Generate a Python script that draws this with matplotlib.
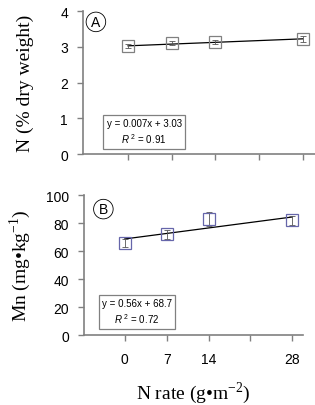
import matplotlib.pyplot as plt
import numpy as np

# N rate (g m-2)
rate = [0, 7, 14, 28]
# panel A: N concentration (% dry weight)
n_conc = [3.02, 3.11, 3.13, 3.22]
n_err = [0.05, 0.06, 0.05, 0.08]
# panel B: Mn concentration (mg kg-1)
mn_conc = [66, 72, 83, 82]
mn_err = [3, 3, 5, 3]

fit_a = (0.007, 3.03)
fit_b = (0.56, 68.7)
eq_a = ["y = 0.007x + 3.03", "$\\it{R}^{\\ \\mathsf{2}}$ = 0.91"]
eq_b = ["y = 0.56x + 68.7", "$\\it{R}^{\\ \\mathsf{2}}$ = 0.72"]

sans = ['Liberation Sans', 'DejaVu Sans']
serif = ['Liberation Serif', 'DejaVu Serif']
plt.rcParams['font.family'] = sans
plt.rcParams['mathtext.fontset'] = 'custom'
plt.rcParams['mathtext.rm'] = 'Liberation Serif'
plt.rcParams['mathtext.it'] = 'Liberation Sans:italic'
plt.rcParams['mathtext.sf'] = 'Liberation Sans'

fig = plt.figure(figsize=(3.15, 4.06), dpi=100)
ax1 = fig.add_axes([0.264, 0.618, 0.736, 0.352])
ax2 = fig.add_axes([0.267, 0.172, 0.695, 0.345])

grey = '#808080'


def style(ax):
    for s in ['top', 'right']:
        ax.spines[s].set_visible(False)
    for s in ['left', 'bottom']:
        ax.spines[s].set_color(grey)
        ax.spines[s].set_linewidth(1.2)
    ax.tick_params(labelcolor='black', labelsize=10, length=4, width=1,
                   direction='out', color=grey)
    ax.tick_params(axis='y', pad=7)


def panel(ax, y, err, fit, eq, color, letter, lpos, boxpos):
    xx = np.array([rate[0], rate[-1]])
    ax.plot(xx, fit[0] * xx + fit[1], color='black', lw=0.9, zorder=2)
    ax.errorbar(rate, y, yerr=err, fmt='none', ecolor='#555555', elinewidth=0.6,
                capsize=2, capthick=0.6, zorder=3)
    ax.plot(rate, y, 's', ms=8.5, mfc='none', mec=color, mew=0.9, zorder=4)
    ax.text(lpos[0], lpos[1], letter, transform=ax.transAxes, fontsize=10,
            ha='center', va='center',
            bbox=dict(boxstyle='circle,pad=0.2', fc='white', ec='black', lw=0.6))
    ax.text(boxpos[0], boxpos[1], eq[0] + "\n" + eq[1], transform=ax.transAxes,
            fontsize=7, ha='center', va='center', linespacing=1.3,
            multialignment='center',
            bbox=dict(boxstyle='square,pad=0.35', fc='white', ec=grey, lw=0.9))


style(ax1)
panel(ax1, n_conc, n_err, fit_a, eq_a, grey, 'A', (0.055, 0.925), (0.263, 0.157))
ax1.set_xlim(-7.2, 30)
ax1.set_ylim(0, 4)
ax1.set_yticks([0, 1, 2, 3, 4])
ax1.set_xticks([0, 7, 14, 21, 28])
ax1.set_xticklabels([])
ax1.set_ylabel("N (% dry weight)", family=serif, fontsize=14, labelpad=19)

style(ax2)
panel(ax2, mn_conc, mn_err, fit_b, eq_b, '#6666aa', 'B', (0.088, 0.9), (0.242, 0.168))
ax2.set_xlim(-6.8, 29.8)
ax2.set_ylim(0, 100)
ax2.set_yticks([0, 20, 40, 60, 80, 100])
ax2.set_xticks([0, 7, 14, 21, 28])
ax2.set_xticklabels(['0', '7', '14', '', '28'])
ax2.tick_params(axis='x', pad=8)
ax2.set_ylabel("Mn (mg\u2022kg$^{-1}$)", family=serif, fontsize=14, labelpad=9)
ax2.set_xlabel("N rate (g\u2022m$^{-2}$)", family=serif, fontsize=14, labelpad=10)

fig.savefig("out.png", dpi=100)
